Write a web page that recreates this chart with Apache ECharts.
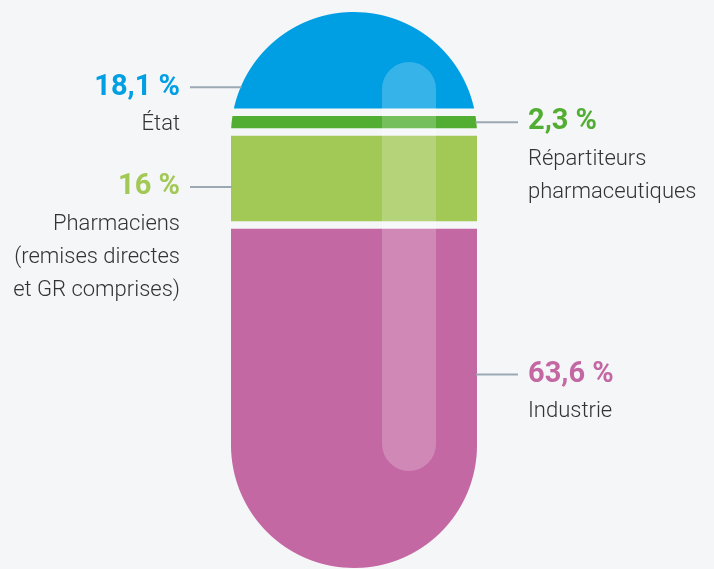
<!DOCTYPE html>
<html>
<head>
<meta charset="utf-8">
<script src="https://cdn.jsdelivr.net/npm/echarts@6/dist/echarts.min.js"></script>
<style>
html,body{margin:0;padding:0;background:#f5f6f8;}
#chart{width:714px;height:569px;}
</style>
</head>
<body>
<div id="chart"></div>
<script>
// Data
var categories = ['État', 'Répartiteurs\npharmaceutiques', 'Pharmaciens\n(remises directes\net GR comprises)', 'Industrie'];
var values = [18.1, 2.3, 16, 63.6];
var colors = ['#009fe3', '#52ae32', '#a2c855', '#c468a4'];
var sides = ['left', 'right', 'left', 'right'];
var anchors = [0.78, 0.5, 0.6, 0.43];

var total = values.reduce(function (a, b) { return a + b; }, 0);
var stackData = [];
var cum = 0;
values.forEach(function (v, i) {
  stackData.push([0, cum, cum + v, i]);
  cum += v;
});

function fmt(v) { return String(v).replace('.', ',') + ' %'; }

var GAP = 7.5;
var NGAPS = values.length - 1;

function renderItem(params, api) {
  var i = api.value(3);
  var start = api.value(1), end = api.value(2);
  var topPt = api.coord([0, 0]);
  var botPt = api.coord([0, total]);
  var cx = topPt[0];
  var w = api.size([1, 0])[0];
  var r = w / 2;
  var pillTop = topPt[1], pillBot = botPt[1] + NGAPS * GAP;
  var cyTop = pillTop + r, cyBot = pillBot - r;
  function hw(y) {
    if (y < cyTop) { var d = cyTop - y; return Math.sqrt(Math.max(0, r * r - d * d)); }
    if (y > cyBot) { var d2 = y - cyBot; return Math.sqrt(Math.max(0, r * r - d2 * d2)); }
    return r;
  }
  var off = i * GAP;
  var y0 = api.coord([0, start])[1] + off;
  var y1 = api.coord([0, end])[1] + off;
  var pts = [];
  var step = 0.5, y;
  for (y = y0; y < y1; y += step) pts.push([cx + hw(y), y]);
  pts.push([cx + hw(y1), y1]);
  for (y = y1; y > y0; y -= step) pts.push([cx - hw(y), y]);
  pts.push([cx - hw(y0), y0]);

  var ly = api.coord([0, start + (end - start) * anchors[i]])[1] + off;
  var edge = hw(ly);
  var side = sides[i];
  var lineShape, tx, align;
  if (side === 'left') {
    lineShape = { x1: cx - r - 41, y1: ly, x2: cx - edge + 1, y2: ly };
    tx = cx - r - 51; align = 'right';
  } else {
    lineShape = { x1: cx + edge - 1, y1: ly, x2: cx + r + 41, y2: ly };
    tx = cx + r + 51; align = 'left';
  }
  return {
    type: 'group',
    children: [
      { type: 'polygon', shape: { points: pts }, style: { fill: colors[i] } },
      { type: 'line', shape: lineShape, style: { stroke: '#9aa9b3', lineWidth: 2 } },
      { type: 'text', style: { text: fmt(values[i]), x: tx, y: ly, align: align, verticalAlign: 'middle',
          fill: colors[i], fontSize: 29, fontWeight: 'bold', fontFamily: 'Roboto' } },
      { type: 'text', style: { text: categories[i], x: tx, y: ly + 37 - 16.5, align: align, verticalAlign: 'top',
          lineHeight: 33, fill: '#333333', fontSize: 22, fontWeight: 300, fontFamily: 'Roboto' } }
    ]
  };
}

var chart = echarts.init(document.getElementById('chart'));
chart.setOption({
  backgroundColor: '#f5f6f8',
  animation: false,
  grid: { left: 231, top: 12, width: 246, height: 556 - NGAPS * GAP },
  xAxis: { type: 'category', data: [''], show: false },
  yAxis: { type: 'value', min: 0, max: total, inverse: true, show: false },
  series: [{
    type: 'custom',
    renderItem: renderItem,
    encode: { x: 0, y: [1, 2] },
    data: stackData,
    silent: true
  }],
  graphic: [{
    type: 'rect',
    shape: { x: 382, y: 62, width: 54, height: 409, r: 27 },
    style: { fill: 'rgba(255,255,255,0.21)' },
    z: 100,
    silent: true
  }]
});
</script>
</body>
</html>
